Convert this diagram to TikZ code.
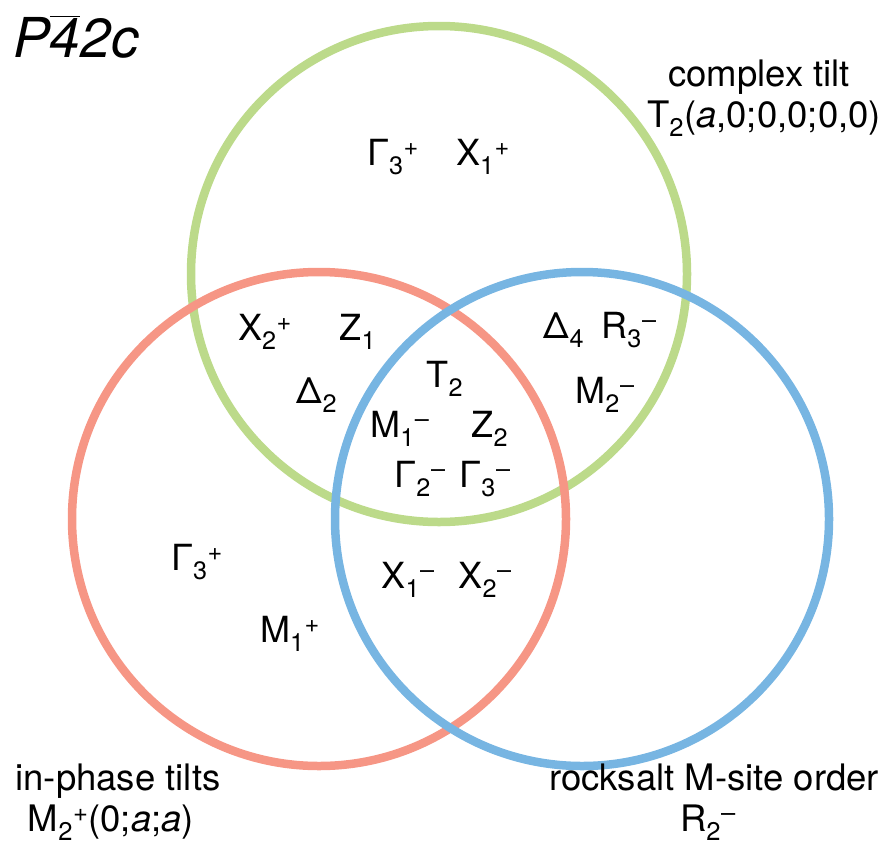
\documentclass[tikz,border=0pt]{standalone}
\usepackage{fontspec}
\setmainfont{TeX Gyre Heros}
\usepackage{tikz}
\usetikzlibrary{positioning}
\definecolor{tiltgreen}{RGB}{188,218,138}
\definecolor{phasered}{RGB}{246,150,133}
\definecolor{saltblue}{RGB}{119,181,226}
\tikzset{
  ring/.style    ={line width=8.5pt},
  irrep/.style   ={anchor=base,inner sep=0pt,font=\fontsize{36}{38}\selectfont},
  setname/.style ={anchor=base,inner sep=0pt,font=\fontsize{36.5}{38}\selectfont},
  sgname/.style  ={anchor=base west,inner sep=0pt,font=\fontsize{55}{60}\selectfont\itshape},
}
\newcommand{\irp}[3]{#1\textsubscript{#2}\textsuperscript{#3}}
\newcommand{\mn}{–}

\begin{document}
\begin{tikzpicture}[x=1pt,y=-1pt]
  \useasboundingbox (0,0) rectangle (891,846);
  \draw[ring,tiltgreen] (439,274) circle[radius=248];
  \draw[ring,phasered]  (319,519) circle[radius=247];
  \draw[ring,saltblue]  (582,519) circle[radius=247];

  \node[sgname] (sg) at (13,57) {P$\overline{\hbox{\itshape 4}}$2c};

  \node[setname] (tiltA) at (759,86)  {complex tilt};
  \node[setname] (tiltB) at (764,127) {T\textsubscript{2}(\textit{a},0;0,0;0,0)};
  \node[setname] (ipA)   at (118,790) {in-phase tilts};
  \node[setname] (ipB)   at (111,831) {\irp{M}{2}{+}(0;\textit{a};\textit{a})};
  \node[setname] (rsA)   at (714,790) {rocksalt M-site order};
  \node[setname] (rsB)   at (708,831) {\irp{R}{2}{\mn}};

  % green only
  \node[irrep] (g3a) at (393,165) {\irp{Γ}{3}{+}};
  \node[irrep] (x1p) at (483,165) {\irp{X}{1}{+}};
  % green and red
  \node[irrep] (x2p) at (265,340) {\irp{X}{2}{+}};
  \node[irrep] (z1)  at (358,340) {Z\textsubscript{1}};
  \node[irrep] (d2)  at (317,403) {Δ\textsubscript{2}};
  % all three
  \node[irrep] (t2)  at (445,387) {T\textsubscript{2}};
  \node[irrep] (m1m) at (400,437) {\irp{M}{1}{\mn}};
  \node[irrep] (z2)  at (490,437) {Z\textsubscript{2}};
  \node[irrep] (g2m) at (420,487) {\irp{Γ}{2}{\mn}};
  \node[irrep] (g3m) at (485,487) {\irp{Γ}{3}{\mn}};
  % green and blue
  \node[irrep] (d4)  at (564,338) {Δ\textsubscript{4}};
  \node[irrep] (r3m) at (629,338) {\irp{R}{3}{\mn}};
  \node[irrep] (m2m) at (605,403) {\irp{M}{2}{\mn}};
  % red only
  \node[irrep] (g3b) at (197,570) {\irp{Γ}{3}{+}};
  \node[irrep] (m1p) at (290,642) {\irp{M}{1}{+}};
  % red and blue
  \node[irrep] (x1m) at (408,588) {\irp{X}{1}{\mn}};
  \node[irrep] (x2m) at (485,588) {\irp{X}{2}{\mn}};
\end{tikzpicture}
\end{document}
